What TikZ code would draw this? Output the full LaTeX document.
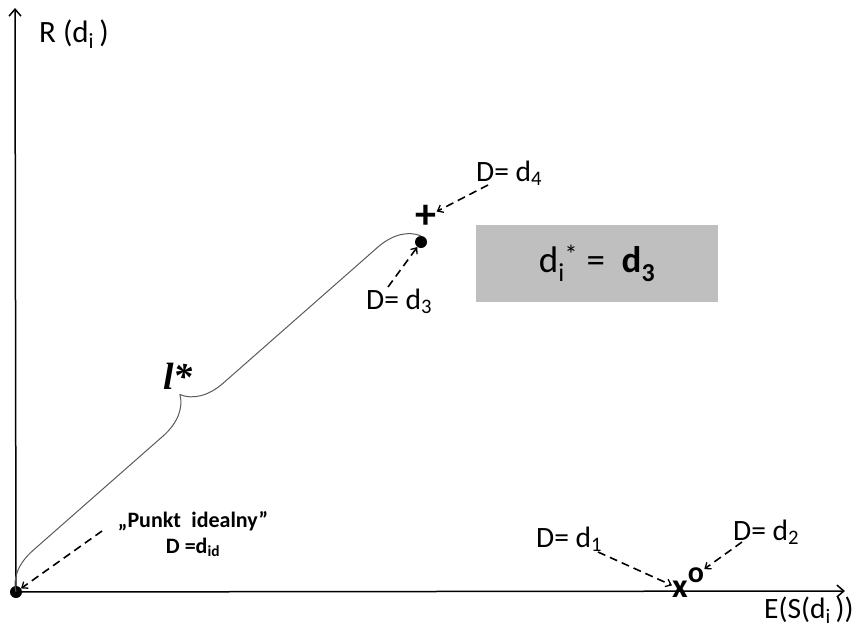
\documentclass[tikz,border=0pt]{standalone}
\usepackage{fontspec}
\setmainfont{Carlito}
\newfontfamily\serifbi{Liberation Serif}
\usetikzlibrary{arrows.meta,decorations.pathreplacing}
\definecolor{boxgray}{RGB}{191,191,191}
\definecolor{bracegray}{RGB}{90,90,90}
\newcommand{\lowsub}[1]{\raisebox{-0.32em}{\fontsize{0.62em}{0.62em}\selectfont #1}}
\begin{document}
\begin{tikzpicture}[x=1pt,y=-1pt,
  axis/.style={line width=1.5pt,-{Straight Barb[length=7pt,width=12pt,line width=1.5pt]}},
  pointer/.style={dash pattern=on 8pt off 5pt, line width=1.6pt, -{Straight Barb[length=5pt,width=8pt,line width=1.3pt]}},
  lbl/.style={font=\fontsize{29.5}{32}\selectfont, inner sep=0pt, anchor=base west},
  dotpt/.style={circle, fill=black, inner sep=0pt, minimum size=12pt},
  mk/.style={font=\bfseries\fontsize{34}{34}\selectfont, inner sep=0pt},
  bracestyle/.style={draw=bracegray, line width=1pt, decorate, decoration={brace, amplitude=40pt, aspect=0.47}},
]
\useasboundingbox (0,0) rectangle (857,632);
% axes
\node[dotpt] (O) at (16,592) {};
\coordinate (ytop) at (15,8);
\coordinate (xend) at (845,591);
\draw[axis] (O.center) -- (ytop);
\draw[axis] (O.center) -- (xend);
\node[lbl, font=\fontsize{31}{32}\selectfont] (R) at (39,42) {R (d\textsubscript{i}\,)};
\node[lbl] (E) at (764,618) {E(S(d\textsubscript{i}\,))};
% points
\node[dotpt] (P3) at (421,242) {};
\node[mk, font=\bfseries\fontsize{42}{42}\selectfont] (P4) at (426,217) {+};
\node[mk] (X) at (680,589) {x};
\node[mk, font=\bfseries\fontsize{30}{30}\selectfont] (Ob) at (696,575) {o};
% brace
\draw[bracestyle] (O.center) -- (P3.north);
\node[font=\serifbi\bfseries\itshape\fontsize{38}{38}\selectfont, inner sep=0pt] (ls) at (178,376) {l*};
% box
\node[fill=boxgray, minimum width=242pt, minimum height=77pt, inner sep=0pt, font=\fontsize{37}{40}\selectfont] (box) at (597,263.5) {d\textsubscript{i}\textsuperscript{*} =\ \ \textbf{d\textsubscript{3}}};
% labels
\node[lbl] (L4) at (476,181) {D= d\textsubscript{4}};
\node[lbl] (L3) at (366,309) {D= d\textsubscript{3}};
\node[lbl] (L1) at (536,547) {D= d\textsubscript{1}};
\node[lbl] (L2) at (733,540) {D= d\textsubscript{2}};
\node[font=\bfseries\fontsize{22}{26}\selectfont, align=center, inner sep=0pt] (Lid) at (193,534) {„Punkt\hspace{0.25em} idealny”\\D =d\textsubscript{id}};
% pointers
\coordinate (a4) at (488,185);
\coordinate (a3) at (388,287);
\coordinate (a1) at (598,552);
\coordinate (a2) at (742,542);
\coordinate (aid) at (102,531);
\draw[pointer] (a4) -- (P4);
\draw[pointer] (a3) -- (P3);
\draw[pointer] (a1) -- (X);
\draw[pointer] (a2) -- (Ob);
\draw[pointer] (aid) -- (O);
\end{tikzpicture}
\end{document}
